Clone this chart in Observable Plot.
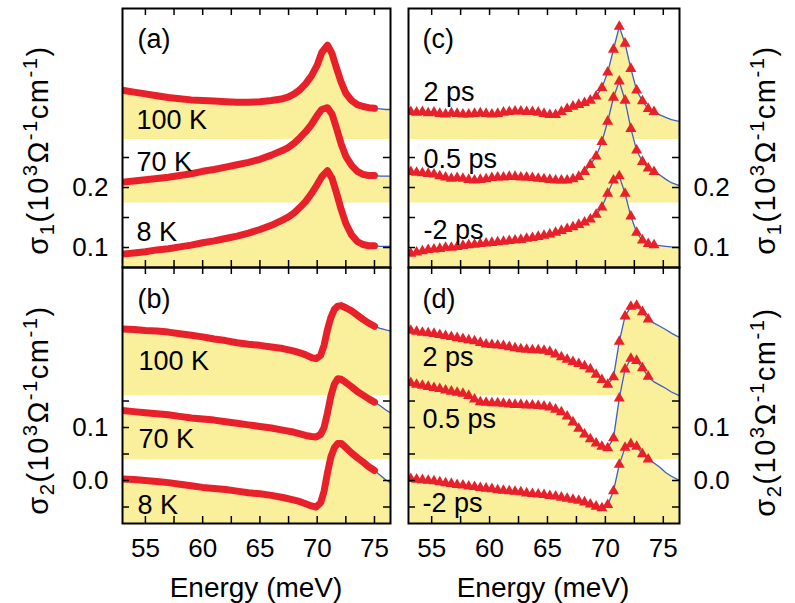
<!DOCTYPE html>
<html><head><meta charset="utf-8">
<script src="https://cdn.jsdelivr.net/npm/d3@7"></script>
<script src="https://cdn.jsdelivr.net/npm/@observablehq/plot@0.6"></script>
<style>
html,body{margin:0;padding:0;background:#fff;}
#root{position:relative;width:795px;height:603px;font-family:"Liberation Sans",Arial,sans-serif;color:#000;overflow:hidden;background:#fff}
.ttl{position:absolute;white-space:nowrap;line-height:1;transform:translate(-50%,-50%)}
.rot{transform:translate(-50%,-50%) rotate(-90deg);letter-spacing:1.5px}
.ttl sub,.ttl sup{font-size:0.7em;line-height:0}
</style></head><body><div id="root"></div>
<script>
// ---------- data: energies (meV) ----------
const eA = [53,54,55,56,57,58,59,60,61,62,63,64,65,66,67,67.5,68,68.5,69,69.5,70,70.4,70.9,71.3,71.7,72.1,72.5,73,73.5,74,74.5,75];
const eB = [53,54,55,56,57,58,59,60,61,62,63,64,65,66,67,68,68.5,69,69.5,69.9,70.3,70.6,70.9,71.2,71.5,71.8,72.1,72.5,73,73.5,74,74.5,75];
const eLeftTail = [75.5,76,76.4];
const eR = [53.2,53.7,54.2,54.7,55.2,55.7,56.2,56.7,57.2,57.7,58.2,58.7,59.2,59.7,60.2,60.7,61.2,61.7,62.2,62.7,63.2,63.7,64.2,64.7,65.2,65.7,66.2,66.7,67.2,67.7,68.2,68.7,69.2,69.7,70.2,70.7,71.2,71.7,72.2,72.7,73.2,73.7,74.2];
const eTailC = [74.7,75.2,75.7,76.4];
const eTailD = [74.2,74.7,75.2,75.7,76.4];

// ---------- panel (a): sigma1 vs temperature (offset curves) ----------
const a100K = [0.362,0.359,0.356,0.353,0.35,0.348,0.346,0.345,0.344,0.343,0.342,0.342,0.343,0.345,0.348,0.351,0.356,0.363,0.373,0.386,0.404,0.425,0.437,0.423,0.398,0.375,0.357,0.345,0.338,0.335,0.333,0.332];
const a70K  = [0.209,0.211,0.213,0.215,0.217,0.22,0.223,0.227,0.23,0.234,0.238,0.242,0.247,0.254,0.262,0.267,0.274,0.283,0.293,0.305,0.32,0.33,0.333,0.322,0.298,0.272,0.252,0.237,0.227,0.222,0.22,0.22];
const a8K   = [0.089,0.091,0.093,0.096,0.098,0.101,0.104,0.108,0.111,0.115,0.119,0.124,0.13,0.137,0.146,0.151,0.158,0.167,0.177,0.19,0.205,0.218,0.228,0.215,0.19,0.163,0.14,0.121,0.11,0.105,0.103,0.103];
const a100KTail = [0.331,0.33,0.33];
const a70KTail  = [0.219,0.219,0.219];
const a8KTail   = [0.102,0.102,0.102];
const aBase = [0.28,0.174,0];

// ---------- panel (b): sigma2 vs temperature ----------
const b100K = [0.286,0.285,0.283,0.282,0.28,0.277,0.274,0.271,0.267,0.264,0.26,0.257,0.255,0.252,0.249,0.244,0.241,0.237,0.232,0.23,0.236,0.255,0.285,0.308,0.323,0.329,0.33,0.326,0.32,0.312,0.304,0.297,0.291];
const b70K  = [0.132,0.13,0.128,0.126,0.124,0.121,0.118,0.116,0.114,0.111,0.108,0.105,0.102,0.099,0.095,0.091,0.088,0.085,0.083,0.082,0.087,0.1,0.128,0.16,0.182,0.192,0.191,0.185,0.177,0.168,0.161,0.154,0.148];
const b8K   = [0.003,0.002,0.0,-0.002,-0.004,-0.007,-0.01,-0.013,-0.015,-0.017,-0.02,-0.023,-0.025,-0.028,-0.032,-0.037,-0.04,-0.044,-0.048,-0.05,-0.042,-0.02,0.015,0.045,0.062,0.07,0.07,0.062,0.052,0.043,0.035,0.026,0.019];
const b100KTail = [0.287,0.284,0.282];
const b70KTail  = [0.141,0.133,0.128];
const b8KTail   = [0.01,0.001,-0.004];
const bBase = [0.16,0.039,-0.2];

// ---------- panel (c): sigma1 vs pump-probe delay ----------
const c2ps  = [0.326,0.325,0.326,0.324,0.325,0.323,0.322,0.324,0.323,0.322,0.322,0.323,0.324,0.323,0.322,0.323,0.325,0.326,0.327,0.327,0.326,0.326,0.325,0.323,0.321,0.321,0.326,0.331,0.335,0.338,0.341,0.345,0.352,0.366,0.392,0.43,0.468,0.44,0.398,0.362,0.344,0.331,0.326];
const c05ps = [0.226,0.225,0.224,0.223,0.222,0.219,0.217,0.215,0.216,0.215,0.213,0.212,0.213,0.214,0.216,0.217,0.217,0.218,0.218,0.217,0.217,0.216,0.215,0.214,0.213,0.212,0.212,0.212,0.214,0.218,0.226,0.238,0.252,0.276,0.31,0.35,0.377,0.345,0.298,0.262,0.243,0.232,0.226];
const cm2ps = [0.09,0.092,0.094,0.096,0.097,0.098,0.1,0.1,0.101,0.103,0.104,0.105,0.106,0.107,0.108,0.109,0.11,0.111,0.112,0.113,0.115,0.116,0.118,0.12,0.122,0.125,0.128,0.131,0.134,0.138,0.142,0.147,0.155,0.167,0.19,0.212,0.219,0.19,0.152,0.125,0.112,0.106,0.104];
const c2psTail  = [0.321,0.317,0.313,0.31];
const c05psTail = [0.221,0.214,0.208,0.203];
const cm2psTail = [0.103,0.102,0.101,0.1];
const cBase = [0.28,0.174,0];

// ---------- panel (d): sigma2 vs pump-probe delay ----------
const d2ps  = [0.283,0.281,0.279,0.278,0.277,0.275,0.273,0.271,0.269,0.267,0.265,0.263,0.26,0.257,0.256,0.255,0.254,0.252,0.25,0.248,0.247,0.246,0.246,0.245,0.243,0.238,0.233,0.228,0.224,0.22,0.216,0.21,0.2,0.19,0.181,0.195,0.262,0.31,0.328,0.33,0.318,0.304];
const d05ps = [0.184,0.181,0.179,0.177,0.175,0.173,0.17,0.168,0.166,0.164,0.16,0.153,0.148,0.147,0.146,0.146,0.145,0.144,0.143,0.143,0.142,0.142,0.141,0.14,0.138,0.134,0.129,0.121,0.11,0.098,0.087,0.078,0.07,0.064,0.061,0.08,0.155,0.21,0.23,0.226,0.212,0.196];
const dm2ps = [0.003,0.002,0.001,0,-0.001,-0.003,-0.005,-0.006,-0.008,-0.009,-0.011,-0.012,-0.014,-0.015,-0.016,-0.018,-0.019,-0.02,-0.021,-0.022,-0.024,-0.025,-0.026,-0.027,-0.029,-0.03,-0.032,-0.034,-0.036,-0.038,-0.041,-0.045,-0.049,-0.052,-0.046,-0.02,0.03,0.062,0.069,0.064,0.05,0.04];
const d2psTail  = [0.297,0.291,0.285,0.278,0.27];
const d05psTail = [0.186,0.18,0.174,0.167,0.16];
const dm2psTail = [0.033,0.025,0.015,0.008,0.0];
const dBase = [0.16,0.039,-0.2];

// ---------- labels & ticks ----------
const tempLabels = ["100 K","70 K","8 K"];
const delayLabels = ["2 ps","0.5 ps","-2 ps"];
const panelTags = ["(a)","(b)","(c)","(d)"];
const xTicks = [55,57.5,60,62.5,65,67.5,70,72.5,75];
const xTickLabels = [55,60,65,70,75];
const s1Ticks = [0.1,0.15,0.2,0.25];
const s1TickLabels = [0.1,0.2];
const s2Ticks = [-0.05,0,0.05,0.1,0.15];
const s2TickLabels = [0.0,0.1];

// ---------- style / layout ----------
const YELLOW = "#faef9b", RED = "#e8202a", BLUE = "#3f5fc0";
const FONT = "Liberation Sans, Arial, sans-serif";
const xDomain = [53, 76.4];
const s1Domain = [0.0667, 0.4983];
const s2Domain = [-0.0811, 0.4019];
const frames = {
  a: {left: 122, top: 8, w: 268, h: 259},
  b: {left: 122, top: 267, w: 268, h: 256},
  c: {left: 408, top: 8, w: 271, h: 259},
  d: {left: 408, top: 267, w: 271, h: 256}
};
// label anchors (px, baseline-left) inside each panel
const textPos = {
  a: [[137,47],[136,128],[136,170],[136,240]],
  b: [[137,307],[138,369],[138,447],[137,513]],
  c: [[422,47],[423,100],[423,167],[423,238]],
  d: [[422,307],[422,365],[422,427],[422,511]]
};

function curve(energies, values, tailE, tailV, base) {
  const pts = values.map((v, i) => ({x: energies[i], y: v}));
  const fit = pts.concat(tailV.map((v, i) => ({x: tailE[i], y: v})));
  return {pts, fit, base};
}

function makePanel(key, cfg) {
  const f = frames[key];
  const side = cfg.side;
  const ml = side === "left" ? 62 : 10, mr = side === "right" ? 62 : 10;
  const mt = 10, mb = cfg.showX ? 50 : 10;
  const marks = [];
  for (const c of cfg.curves) marks.push(Plot.area(c.fit, {x1: "x", y1: c.base, y2: "y", fill: YELLOW, clip: true}));
  for (const c of cfg.curves) marks.push(Plot.line(c.fit, {x: "x", y: "y", stroke: BLUE, strokeWidth: 1.3, clip: true}));
  for (const c of cfg.curves) {
    if (cfg.dense) marks.push(Plot.line(c.pts, {x: "x", y: "y", stroke: RED, strokeWidth: 7, strokeLinejoin: "round", clip: true}));
    else marks.push(Plot.dot(c.pts, {x: "x", y: "y", symbol: "triangle", r: 4.1, fill: RED, stroke: "none", clip: true}));
  }
  const tl = 7;
  marks.push(Plot.ruleX(xTicks, {x: d => d, insetTop: f.h - tl, stroke: "#000", strokeWidth: 1.5}));
  marks.push(Plot.ruleX(xTicks, {x: d => d, insetBottom: f.h - tl, stroke: "#000", strokeWidth: 1.5}));
  marks.push(Plot.ruleY(cfg.yTicks, {y: d => d, insetRight: f.w - tl, stroke: "#000", strokeWidth: 1.5}));
  marks.push(Plot.ruleY(cfg.yTicks, {y: d => d, insetLeft: f.w - tl, stroke: "#000", strokeWidth: 1.5}));
  marks.push(Plot.frame({stroke: "#000", strokeWidth: 2}));
  marks.push(Plot.axisY(cfg.yLabels, {anchor: side, tickSize: 0, tickPadding: 14, tickFormat: d3.format(".1f"), fontSize: 26, label: null, fill: "#000"}));
  if (cfg.showX) marks.push(Plot.axisX(xTickLabels, {anchor: "bottom", tickSize: 0, tickPadding: 15, fontSize: 26, label: null, fill: "#000"}));
  cfg.texts.forEach((t, i) => {
    const [px, py] = textPos[key][i];
    marks.push(Plot.text([t], {text: d => d, frameAnchor: "top-left", dx: px - f.left, dy: py - f.top, textAnchor: "start", lineAnchor: "bottom", fontSize: 27, fill: "#000"}));
  });
  return Plot.plot({
    width: f.w + ml + mr, height: f.h + mt + mb,
    marginLeft: ml, marginRight: mr, marginTop: mt, marginBottom: mb,
    x: {domain: xDomain, axis: cfg.showX ? undefined : null},
    y: {domain: cfg.yDomain, axis: null},
    style: {position: "absolute", left: (f.left - ml) + "px", top: (f.top - mt) + "px", background: "transparent", overflow: "visible", fontFamily: FONT, maxWidth: "none", color: "#000"},
    marks
  });
}

const root = document.getElementById("root");
root.appendChild(makePanel("a", {
  side: "left", showX: false, dense: true, yDomain: s1Domain, yTicks: s1Ticks, yLabels: s1TickLabels,
  curves: [curve(eA, a100K, eLeftTail, a100KTail, aBase[0]), curve(eA, a70K, eLeftTail, a70KTail, aBase[1]), curve(eA, a8K, eLeftTail, a8KTail, aBase[2])],
  texts: [panelTags[0], ...tempLabels]
}));
root.appendChild(makePanel("b", {
  side: "left", showX: true, dense: true, yDomain: s2Domain, yTicks: s2Ticks, yLabels: s2TickLabels,
  curves: [curve(eB, b100K, eLeftTail, b100KTail, bBase[0]), curve(eB, b70K, eLeftTail, b70KTail, bBase[1]), curve(eB, b8K, eLeftTail, b8KTail, bBase[2])],
  texts: [panelTags[1], ...tempLabels]
}));
root.appendChild(makePanel("c", {
  side: "right", showX: false, dense: false, yDomain: s1Domain, yTicks: s1Ticks, yLabels: s1TickLabels,
  curves: [curve(eR, c2ps, eTailC, c2psTail, cBase[0]), curve(eR, c05ps, eTailC, c05psTail, cBase[1]), curve(eR, cm2ps, eTailC, cm2psTail, cBase[2])],
  texts: [panelTags[2], ...delayLabels]
}));
root.appendChild(makePanel("d", {
  side: "right", showX: true, dense: false, yDomain: s2Domain, yTicks: s2Ticks, yLabels: s2TickLabels,
  curves: [curve(eR, d2ps, eTailD, d2psTail, dBase[0]), curve(eR, d05ps, eTailD, d05psTail, dBase[1]), curve(eR, dm2ps, eTailD, dm2psTail, dBase[2])],
  texts: [panelTags[3], ...delayLabels]
}));

// axis titles (HTML text)
const s1Title = "σ<sub>1</sub>(10<sup>3</sup>Ω<sup>-1</sup>cm<sup>-1</sup>)";
const s2Title = "σ<sub>2</sub>(10<sup>3</sup>Ω<sup>-1</sup>cm<sup>-1</sup>)";
const xTitle = "Energy (meV)";
function addTitle(html, cx, cy, size, rotate) {
  const el = document.createElement("div");
  el.className = "ttl" + (rotate ? " rot" : "");
  el.innerHTML = html;
  el.style.left = cx + "px"; el.style.top = cy + "px"; el.style.fontSize = size + "px";
  root.appendChild(el);
}
addTitle(xTitle, 256, 588, 28, false);
addTitle(xTitle, 543, 588, 28, false);
addTitle(s1Title, 38, 150, 29, true);
addTitle(s2Title, 38, 410, 29, true);
addTitle(s1Title, 765, 150, 29, true);
addTitle(s2Title, 765, 412, 29, true);
</script></body></html>
